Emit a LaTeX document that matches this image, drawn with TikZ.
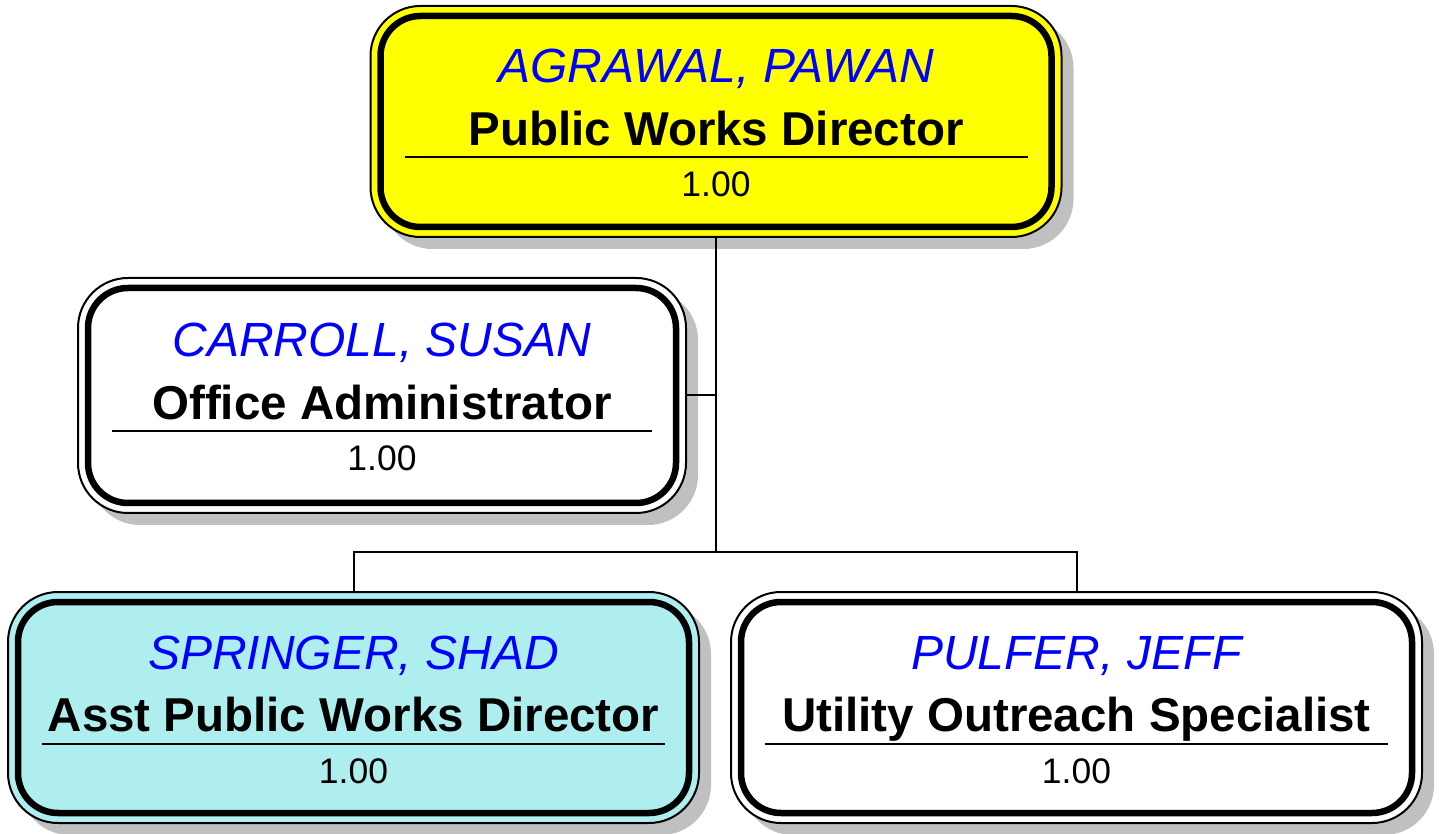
\documentclass[tikz,border=0pt]{standalone}
\usepackage{fontspec}
\setmainfont{Liberation Sans}
\usetikzlibrary{shadows}

\definecolor{shadowgray}{RGB}{192,192,192}
\definecolor{dirfill}{RGB}{255,255,0}
\definecolor{asstfill}{RGB}{175,238,238}
\definecolor{namecol}{RGB}{0,0,255}

\tikzset{
  posbox/.style={draw=black, line width=2pt, rounded corners=50pt, inner sep=0pt,
    drop shadow={opacity=1, fill=shadowgray, shadow xshift=12pt, shadow yshift=-12pt},
    path picture={\draw[line width=6.5pt, rounded corners=40pt]
      ([shift={(10pt,10pt)}]path picture bounding box.south west) rectangle
      ([shift={(-10pt,-10pt)}]path picture bounding box.north east);}},
  nametext/.style={anchor=base, inner sep=0pt, text=namecol,
    font=\fontsize{48}{52}\selectfont\itshape},
  titletext/.style={anchor=base, inner sep=0pt,
    font=\fontsize{47.5}{52}\selectfont\bfseries},
  ftetext/.style={anchor=base, inner sep=0pt, font=\fontsize{35.5}{40}\selectfont},
  rulestyle/.style={line width=2pt},
  link/.style={line width=2pt}
}

% #1 node name, #2 centre, #3 width, #4 height, #5 fill, #6 person, #7 post title
\newcommand\orgbox[7]{%
  \node[posbox, fill=#5, minimum width=#3, minimum height=#4] (#1) at #2 {};
  \node[nametext] (#1-name) at ([yshift=38.5pt]#1.center) {#6};
  \node[titletext] (#1-title) at ([yshift=-24pt]#1.center) {#7};
  \draw[rulestyle] ([xshift=35pt,yshift=-36pt]#1.west) -- ([xshift=-35pt,yshift=-36pt]#1.east);
  \node[ftetext] (#1-fte) at ([yshift=-75.5pt]#1.center) {1.00};
}

\begin{document}
\begin{tikzpicture}[x=1pt, y=1pt]
  \useasboundingbox (0,0) rectangle (1439,833);

  \orgbox{dir}{(716,711.5)}{691pt}{231pt}{dirfill}{AGRAWAL, PAWAN}{Public Works Director}
  \orgbox{office}{(382,437.5)}{608pt}{235pt}{white}{CARROLL, SUSAN}{Office Administrator}
  \orgbox{asst}{(353.5,125.5)}{691pt}{231pt}{asstfill}{SPRINGER, SHAD}{Asst Public Works Director}
  \orgbox{util}{(1076.5,125.5)}{691pt}{231pt}{white}{PULFER, JEFF}{Utility Outreach Specialist}

  % reporting lines
  \coordinate (hub) at (716,281);
  \draw[link] (dir.south) -- (hub);
  \draw[link] (office.east) -- (office.east -| dir.south);
  \draw[link] (asst.north) |- (hub) -| (util.north);
\end{tikzpicture}
\end{document}
